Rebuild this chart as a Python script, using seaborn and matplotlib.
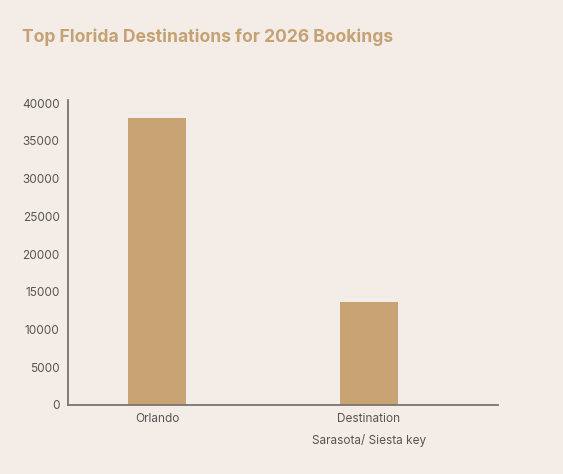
import matplotlib
matplotlib.use("Agg")
import matplotlib.pyplot as plt
import seaborn as sns
import pandas as pd

categories = ["Orlando", "Destination\nSarasota/ Siesta key"]
bookings = [38000, 13600]
yticks = [0, 5000, 10000, 15000, 20000, 25000, 30000, 35000, 40000]

bg = "#f4ede7"
bar_color = "#c8a475"
title_color = "#c4a274"

sns.set_theme(style="white")
plt.rcParams["font.family"] = ["Inter", "DejaVu Sans"]

df = pd.DataFrame({"dest": categories, "bookings": bookings})

fig = plt.figure(figsize=(5.63, 4.74), dpi=100, facecolor=bg)
ax = fig.add_axes([0.1208, 0.1456, 0.8845 - 0.1208, 0.789 - 0.1456])
ax.set_facecolor(bg)

sns.barplot(data=df, x="dest", y="bookings", color=bar_color, width=0.275,
            saturation=1, linewidth=0, edgecolor=bar_color, ax=ax)

ax.set_xlim(-0.42, 1.61)
ax.set_ylim(0, 40400)
ax.set_yticks(yticks)
ax.set_yticklabels([str(v) for v in yticks])
ax.tick_params(axis="both", length=0, labelsize=8.5, labelcolor="#555555", pad=6)
ax.set_xlabel("")
ax.set_ylabel("")
for lbl in ax.get_xticklabels():
    lbl.set_linespacing(1.9)

for s in ["top", "right"]:
    ax.spines[s].set_visible(False)
for s in ["left", "bottom"]:
    ax.spines[s].set_color("#7a7470")
    ax.spines[s].set_linewidth(1.3)

fig.text(22 / 563, 1 - 37 / 474, "Top Florida Destinations for 2026 Bookings",
         fontsize=12.6, fontweight="bold", color=title_color, va="center", ha="left")

fig.savefig("out.png", dpi=100, facecolor=bg)
